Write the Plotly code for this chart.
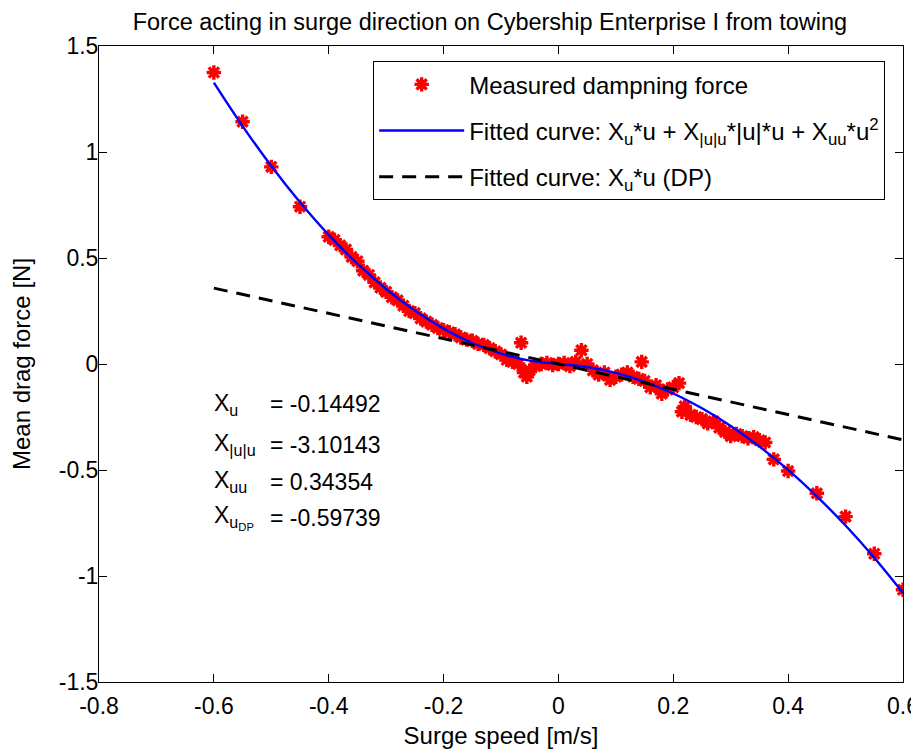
import plotly.graph_objects as go

# Measured damping force (surge speed [m/s], mean drag force [N])
meas_u = [-0.60, -0.55, -0.50, -0.45, -0.40, -0.39, -0.38, -0.37, -0.36, -0.35,
          -0.34, -0.33, -0.32, -0.31, -0.30, -0.29, -0.28, -0.27, -0.26, -0.25,
          -0.24, -0.23, -0.22, -0.21, -0.20, -0.19, -0.18, -0.17, -0.16, -0.15,
          -0.14, -0.13, -0.12, -0.11, -0.10, -0.09, -0.08, -0.07, -0.065, -0.06,
          -0.055, -0.05, -0.04, -0.03, -0.02, -0.01, 0.00, 0.01, 0.02, 0.03,
          0.04, 0.05, 0.06, 0.07, 0.08, 0.09, 0.10, 0.11, 0.12, 0.13,
          0.14, 0.145, 0.15, 0.16, 0.17, 0.18, 0.19, 0.20, 0.21, 0.215,
          0.22, 0.23, 0.24, 0.25, 0.26, 0.27, 0.28, 0.29, 0.30, 0.31,
          0.32, 0.33, 0.34, 0.35, 0.36, 0.375, 0.40, 0.45, 0.50, 0.55, 0.60]
meas_f = [1.375, 1.143, 0.930, 0.742, 0.600, 0.585, 0.560, 0.540, 0.505, 0.485,
          0.440, 0.420, 0.385, 0.360, 0.340, 0.315, 0.300, 0.275, 0.250, 0.240,
          0.215, 0.200, 0.185, 0.170, 0.160, 0.150, 0.140, 0.125, 0.115, 0.110,
          0.095, 0.090, 0.075, 0.060, 0.045, 0.020, 0.010, 0.000, 0.100, -0.040,
          -0.060, -0.030, -0.010, 0.000, 0.005, -0.005, 0.000, 0.005, -0.010, 0.010,
          0.065, 0.000, -0.030, -0.050, -0.040, -0.075, -0.060, -0.050, -0.040, -0.060,
          -0.070, 0.010, -0.080, -0.110, -0.100, -0.140, -0.120, -0.110, -0.090, -0.225,
          -0.200, -0.240, -0.250, -0.260, -0.280, -0.270, -0.300, -0.320, -0.340, -0.330,
          -0.340, -0.350, -0.345, -0.360, -0.370, -0.450, -0.505, -0.610, -0.720, -0.895, -1.065]

# Fitted curve Xu*u + X|u|u*|u|*u + Xuu*u^2
fit_u = [-0.60, -0.55, -0.50, -0.45, -0.40, -0.35, -0.30, -0.25, -0.20, -0.15, -0.10, -0.05,
         0.00, 0.05, 0.10, 0.15, 0.20, 0.25, 0.30, 0.35, 0.40, 0.45, 0.50, 0.55, 0.60]
fit_f = [1.327, 1.122, 0.934, 0.763, 0.609, 0.473, 0.354, 0.252, 0.167, 0.099, 0.049, 0.016,
         0.000, -0.014, -0.042, -0.084, -0.139, -0.209, -0.292, -0.389, -0.499, -0.624, -0.762, -0.914, -1.080]

# Linear DP fit Xu*u
dp_u = [-0.60, 0.60]
dp_f = [0.358, -0.358]

# Coefficient labels
coef_names = ["X<sub>u</sub>", "X<sub>|u|u</sub>", "X<sub>uu</sub>", "X<sub>u<sub>DP</sub></sub>"]
coef_values = ["= -0.14492", "= -3.10143", "= 0.34354", "= -0.59739"]
coef_y = [-0.19, -0.38, -0.555, -0.725]

x_ticks = [-0.8, -0.6, -0.4, -0.2, 0, 0.2, 0.4, 0.6]
x_ticktext = ["-0.8", "-0.6", "-0.4", "-0.2", "0", "0.2", "0.4", "0.6"]
y_ticks = [-1.5, -1, -0.5, 0, 0.5, 1, 1.5]
y_ticktext = ["-1.5", "-1", "-0.5", "0", "0.5", "1", "1.5"]

FONT = "Liberation Sans, Arial, sans-serif"
FS = 23
FT = 24

fig = go.Figure()
fig.add_trace(go.Scatter(
    x=meas_u, y=meas_f, mode="markers", name="Measured dampning force",
    legendgroup="g1",
    marker=dict(symbol="asterisk-open", size=12, color="red",
                line=dict(color="red", width=3.4)),
))
fig.add_trace(go.Scatter(
    x=fit_u, y=fit_f, mode="lines", line_shape="spline", legendgroup="g2",
    name="Fitted curve: X<sub>u</sub>*u + X<sub>|u|u</sub>*|u|*u + X<sub>uu</sub>*u<sup>2</sup>",
    line=dict(color="#0000ff", width=2.4),
))
fig.add_trace(go.Scatter(
    x=dp_u, y=dp_f, mode="lines", name="Fitted curve: X<sub>u</sub>*u (DP)", legendgroup="g3",
    line=dict(color="black", width=3, dash="14px,9px"),
))

for name, val, yy in zip(coef_names, coef_values, coef_y):
    fig.add_annotation(x=-0.603, y=yy, xref="x", yref="y", text=name, showarrow=False,
                       xanchor="left", yanchor="middle", font=dict(size=FS, color="black", family=FONT))
    fig.add_annotation(x=-0.505, y=yy, xref="x", yref="y", text=val, showarrow=False,
                       xanchor="left", yanchor="middle", font=dict(size=FS, color="black", family=FONT))

axis_common = dict(
    showgrid=False, zeroline=False, showline=True, linecolor="black", linewidth=1,
    mirror="ticks", ticks="inside", ticklen=8, tickcolor="black", automargin=False,
    tickfont=dict(size=FS, color="black", family=FONT),
)

# The page body adds an 8px offset, so the figure is 8px smaller than the window.
fig.update_layout(
    width=911, height=741,
    margin=dict(l=91, r=16, t=38, b=67),
    paper_bgcolor="white", plot_bgcolor="white",
    font=dict(family=FONT, color="black", size=FS),
    title=dict(text="Force acting in surge direction on Cybership Enterprise I from towing",
               x=0.529, xanchor="center", y=0.982, yanchor="middle",
               font=dict(size=23.5, color="black", family=FONT)),
    xaxis=dict(range=[-0.8, 0.6], tickvals=x_ticks, ticktext=x_ticktext, ticklabelstandoff=3,
               title=dict(text="Surge speed [m/s]", font=dict(size=FT, family=FONT), standoff=12),
               **axis_common),
    yaxis=dict(range=[-1.5, 1.5], tickvals=y_ticks, ticktext=y_ticktext, ticklabelstandoff=-5,
               title=dict(text="Mean drag force [N]", font=dict(size=FT, family=FONT), standoff=22),
               **axis_common),
    legend=dict(x=0.341, y=0.976, xanchor="left", yanchor="top",
                bgcolor="white", bordercolor="black", borderwidth=1,
                font=dict(size=FT, color="black", family=FONT),
                itemwidth=85, tracegroupgap=12),
    showlegend=True,
)

fig.write_html("out.html")
